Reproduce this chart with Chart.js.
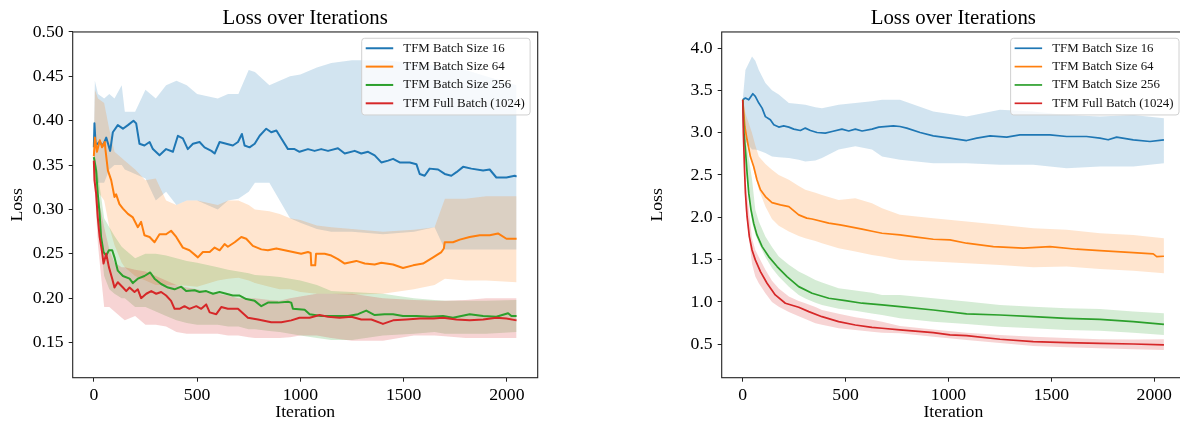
<!DOCTYPE html>
<html lang="en">
<head>
<meta charset="UTF-8" />
<title>Loss over Iterations</title>
<script src="https://cdn.jsdelivr.net/npm/chart.js"></script>
<style>
  html, body { margin: 0; padding: 0; background: #fff; overflow: hidden; }
  body { width: 1180px; height: 424px; position: relative; }
  .panel { position: absolute; top: 0; width: 560px; height: 424px; }
</style>
</head>
<body>
<div class="panel" style="left:0"><canvas id="lossLeft" width="560" height="424"></canvas></div>
<div class="panel" style="left:640px"><canvas id="lossRight" width="560" height="424"></canvas></div>

<script>
const seriesLabels = ["TFM Batch Size 16", "TFM Batch Size 64", "TFM Batch Size 256", "TFM Full Batch (1024)"];
const seriesColors = ["#1f77b4", "#ff7f0e", "#2ca02c", "#d62728"];
const bandColors = ["rgba(31,119,180,0.2)", "rgba(255,127,14,0.2)", "rgba(44,160,44,0.2)", "rgba(214,39,40,0.2)"];

const xTicks = [0, 500, 1000, 1500, 2000];
const leftYTicks = [0.15, 0.20, 0.25, 0.30, 0.35, 0.40, 0.45, 0.50];
const rightYTicks = [0.5, 1.0, 1.5, 2.0, 2.5, 3.0, 3.5, 4.0];

// ---- left panel: mean curves ----
const leftBlueIt = [0,3,9,27,44,60,79,92,116,141,165,192,205,221,245,270,286,318,350,383,407,431,455,480,512,536,569,585,609,641,673,698,717,730,754,779,803,835,859,884,908,940,972,996,1037,1069,1101,1134,1182,1215,1263,1295,1328,1360,1392,1425,1449,1481,1530,1562,1578,1602,1626,1667,1699,1731,1756,1788,1828,1885,1917,1949,1998,2038,2047];
const leftBlue = [0.370,0.397,0.372,0.376,0.372,0.381,0.366,0.387,0.395,0.391,0.395,0.400,0.397,0.374,0.372,0.376,0.368,0.361,0.368,0.365,0.383,0.380,0.368,0.374,0.376,0.370,0.366,0.363,0.376,0.374,0.372,0.376,0.385,0.372,0.370,0.374,0.383,0.391,0.387,0.389,0.380,0.368,0.368,0.365,0.368,0.366,0.368,0.366,0.369,0.363,0.366,0.363,0.365,0.361,0.353,0.355,0.357,0.353,0.353,0.351,0.340,0.338,0.346,0.345,0.340,0.338,0.342,0.348,0.346,0.344,0.345,0.336,0.336,0.338,0.337];

const leftOrangeIt = [0,5,15,29,40,53,56,68,84,100,108,124,141,165,189,213,229,245,270,294,318,350,374,399,431,463,504,528,561,585,609,633,649,682,714,738,770,811,843,884,924,964,1004,1037,1050,1053,1072,1076,1118,1150,1182,1215,1271,1312,1360,1392,1449,1497,1546,1594,1643,1683,1695,1699,1739,1772,1820,1869,1917,1957,1998,2047];
const leftOrange = [0.360,0.381,0.365,0.378,0.370,0.376,0.368,0.344,0.333,0.314,0.317,0.306,0.301,0.295,0.291,0.280,0.286,0.271,0.269,0.263,0.272,0.272,0.276,0.269,0.257,0.254,0.246,0.252,0.252,0.257,0.254,0.261,0.258,0.263,0.269,0.267,0.259,0.255,0.254,0.256,0.254,0.252,0.250,0.252,0.251,0.237,0.237,0.250,0.250,0.248,0.244,0.239,0.242,0.239,0.238,0.240,0.238,0.234,0.237,0.239,0.246,0.252,0.256,0.263,0.263,0.266,0.269,0.271,0.271,0.273,0.267,0.267];

const leftGreenIt = [0,11,19,28,35,47,60,73,89,100,116,141,173,189,213,245,273,294,326,359,391,423,447,488,512,544,577,609,641,673,706,738,779,811,843,892,940,956,964,1021,1045,1101,1166,1231,1279,1319,1360,1408,1449,1497,1562,1626,1691,1739,1820,1885,1949,2006,2022,2047];
const leftGreen = [0.359,0.344,0.318,0.295,0.269,0.252,0.248,0.254,0.254,0.246,0.231,0.225,0.222,0.217,0.222,0.225,0.229,0.222,0.216,0.212,0.210,0.213,0.208,0.209,0.207,0.208,0.205,0.207,0.205,0.203,0.203,0.199,0.197,0.191,0.195,0.195,0.196,0.195,0.188,0.187,0.182,0.180,0.180,0.180,0.182,0.186,0.181,0.182,0.182,0.180,0.180,0.179,0.180,0.178,0.182,0.180,0.179,0.183,0.180,0.180];

const leftRedIt = [0,3,11,19,28,40,47,60,73,89,100,116,141,157,173,197,213,229,254,278,302,326,350,374,391,415,439,463,496,520,544,561,593,617,649,698,746,795,859,908,956,996,1045,1093,1134,1190,1247,1295,1344,1400,1449,1513,1578,1643,1691,1756,1820,1885,1949,1998,2047];
const leftRed = [0.355,0.333,0.318,0.291,0.269,0.252,0.239,0.250,0.235,0.222,0.212,0.218,0.212,0.208,0.212,0.207,0.210,0.200,0.205,0.208,0.205,0.207,0.203,0.197,0.188,0.188,0.191,0.188,0.191,0.188,0.193,0.184,0.182,0.190,0.188,0.188,0.178,0.176,0.173,0.173,0.175,0.178,0.178,0.181,0.179,0.178,0.179,0.176,0.176,0.171,0.175,0.176,0.177,0.177,0.178,0.176,0.175,0.176,0.178,0.177,0.175];

// ---- left panel: shaded bands (upper / lower) ----
const leftBandIt = [0,5,20,50,75,100,135,150,200,250,300,350,400,450,500,600,650,700,750,780,850,900,950,1000,1080,1150,1250,1400,1550,1650,1700,1800,1900,2047];
const leftBlueHi = [0.375,0.445,0.430,0.425,0.430,0.425,0.440,0.410,0.410,0.435,0.425,0.440,0.445,0.440,0.430,0.425,0.430,0.430,0.457,0.455,0.440,0.445,0.450,0.452,0.460,0.465,0.468,0.468,0.465,0.462,0.460,0.457,0.450,0.440];
const leftBlueLo = [0.365,0.345,0.330,0.330,0.345,0.350,0.350,0.345,0.340,0.335,0.310,0.320,0.305,0.310,0.310,0.300,0.310,0.312,0.320,0.330,0.330,0.310,0.290,0.285,0.278,0.275,0.275,0.272,0.275,0.280,0.255,0.255,0.255,0.255];
const leftOrangeHi = [0.370,0.435,0.425,0.420,0.390,0.365,0.358,0.355,0.345,0.333,0.335,0.310,0.305,0.310,0.310,0.305,0.310,0.310,0.305,0.300,0.298,0.295,0.290,0.288,0.282,0.280,0.278,0.275,0.277,0.280,0.312,0.312,0.315,0.315];
const leftOrangeLo = [0.350,0.330,0.320,0.310,0.280,0.260,0.240,0.235,0.225,0.220,0.215,0.215,0.215,0.214,0.213,0.220,0.222,0.223,0.220,0.217,0.213,0.210,0.210,0.207,0.205,0.205,0.204,0.205,0.210,0.215,0.222,0.220,0.220,0.218];
const leftGreenHi = [0.365,0.360,0.340,0.290,0.280,0.270,0.258,0.255,0.245,0.250,0.250,0.248,0.245,0.242,0.240,0.235,0.232,0.230,0.228,0.226,0.225,0.224,0.222,0.220,0.215,0.208,0.207,0.205,0.200,0.198,0.197,0.197,0.197,0.198];
const leftGreenLo = [0.355,0.340,0.290,0.225,0.210,0.205,0.200,0.200,0.190,0.190,0.185,0.180,0.175,0.172,0.170,0.170,0.168,0.168,0.165,0.165,0.163,0.162,0.160,0.158,0.155,0.153,0.153,0.158,0.160,0.162,0.160,0.160,0.160,0.162];
const leftRedHi = [0.360,0.345,0.315,0.280,0.255,0.240,0.235,0.235,0.232,0.230,0.225,0.220,0.215,0.212,0.210,0.205,0.203,0.200,0.200,0.200,0.198,0.197,0.200,0.202,0.205,0.205,0.205,0.200,0.198,0.197,0.197,0.198,0.200,0.200];
const leftRedLo = [0.350,0.320,0.260,0.190,0.190,0.185,0.178,0.175,0.180,0.170,0.170,0.168,0.162,0.160,0.160,0.160,0.158,0.158,0.156,0.155,0.155,0.155,0.156,0.158,0.158,0.155,0.152,0.152,0.158,0.158,0.157,0.155,0.155,0.155];

// ---- right panel: mean curves ----
const rightBlueIt = [0,13,29,49,61,78,94,110,134,151,175,199,224,248,280,304,329,361,401,434,482,515,547,580,628,661,732,764,797,862,926,1007,1088,1137,1202,1283,1347,1412,1493,1574,1671,1736,1776,1817,1898,1979,2047];
const rightBlue = [3.389,3.409,3.389,3.460,3.430,3.350,3.290,3.190,3.152,3.093,3.066,3.080,3.066,3.042,3.026,3.054,3.026,3.002,2.995,3.014,3.042,3.020,3.042,3.020,3.042,3.066,3.081,3.073,3.054,3.002,2.963,2.936,2.907,2.936,2.963,2.948,2.975,2.975,2.975,2.955,2.955,2.936,2.916,2.948,2.916,2.896,2.916];
const rightOrangeIt = [0,10,21,37,53,69,86,110,142,183,224,272,311,337,418,473,499,580,635,677,764,845,926,1007,1088,1218,1363,1493,1623,1736,1898,1995,2012,2047];
const rightOrange = [3.389,3.073,2.916,2.718,2.600,2.443,2.325,2.245,2.174,2.147,2.127,2.029,1.990,1.980,1.931,1.911,1.899,1.860,1.832,1.812,1.792,1.765,1.741,1.733,1.694,1.654,1.635,1.654,1.623,1.607,1.583,1.568,1.536,1.540];
const rightGreenIt = [0,6,13,21,29,40,53,69,94,126,167,215,272,337,418,499,580,677,764,926,1088,1250,1412,1574,1736,1898,2047];
const rightGreen = [3.389,2.995,2.797,2.522,2.285,2.088,1.931,1.792,1.654,1.536,1.418,1.300,1.181,1.103,1.044,1.016,0.985,0.965,0.944,0.905,0.858,0.846,0.826,0.807,0.795,0.767,0.736];
const rightRedIt = [0,3,8,13,21,32,45,61,86,118,158,207,272,321,385,466,547,628,677,764,926,1007,1088,1250,1412,1574,1736,1898,2047];
const rightRed = [3.389,2.995,2.600,2.285,2.010,1.772,1.615,1.497,1.359,1.221,1.083,0.985,0.937,0.886,0.826,0.767,0.728,0.700,0.689,0.669,0.637,0.610,0.602,0.559,0.531,0.519,0.511,0.503,0.492];

// ---- right panel: shaded bands ----
const rightBandIt = [0,13,45,61,78,110,142,175,224,272,304,353,385,466,547,628,677,764,926,1088,1250,1412,1574,1736,1898,2047];
const rightBlueHi = [3.39,3.74,3.90,3.85,3.74,3.586,3.50,3.45,3.35,3.34,3.33,3.30,3.29,3.33,3.35,3.37,3.39,3.39,3.25,3.19,3.27,3.25,3.21,3.19,3.21,3.17];
const rightBlueLo = [3.39,2.90,2.80,2.80,2.79,2.76,2.72,2.71,2.70,2.68,2.66,2.67,2.70,2.80,2.84,2.80,2.72,2.68,2.64,2.64,2.62,2.62,2.58,2.60,2.60,2.64];
const rightOrangeHi = [3.39,3.23,2.995,2.85,2.718,2.63,2.561,2.50,2.443,2.37,2.325,2.29,2.265,2.206,2.226,2.167,2.108,2.029,1.99,1.95,1.911,1.872,1.852,1.812,1.792,1.753];
const rightOrangeLo = [3.39,2.95,2.65,2.48,2.33,2.127,1.98,1.90,1.832,1.78,1.753,1.72,1.694,1.635,1.595,1.556,1.536,1.497,1.477,1.458,1.438,1.41,1.42,1.39,1.37,1.34];
const rightGreenHi = [3.39,2.95,2.45,2.088,1.95,1.772,1.65,1.536,1.44,1.36,1.32,1.26,1.23,1.162,1.135,1.11,1.083,1.083,1.044,1.004,0.965,0.944,0.926,0.918,0.886,0.867];
const rightGreenLo = [3.39,2.60,1.95,1.80,1.694,1.53,1.40,1.30,1.18,1.083,1.04,0.99,0.965,0.92,0.895,0.865,0.846,0.807,0.767,0.74,0.708,0.689,0.669,0.661,0.637,0.61];
const rightRedHi = [3.39,2.45,1.75,1.615,1.53,1.38,1.25,1.16,1.063,1.01,0.985,0.94,0.905,0.86,0.82,0.79,0.767,0.716,0.675,0.637,0.61,0.59,0.575,0.559,0.555,0.559];
const rightRedLo = [3.39,2.10,1.45,1.30,1.22,1.103,1.00,0.944,0.88,0.83,0.80,0.748,0.73,0.689,0.668,0.648,0.637,0.63,0.59,0.551,0.515,0.48,0.465,0.453,0.44,0.433];

const serif = '"Liberation Serif", "Times New Roman", serif';

function pts(xs, ys) {
  return xs.map((x, i) => ({ x: x, y: ys[i] }));
}

function buildDatasets(lines, bands, bandIt, lw) {
  const sets = [];
  lines.forEach((ln, i) => {
    sets.push({ label: seriesLabels[i] + " hi", data: pts(bandIt, bands[i][0]), fill: "+1",
      backgroundColor: bandColors[i], borderColor: "transparent", borderWidth: 0, pointRadius: 0, order: 4 - i });
    sets.push({ label: seriesLabels[i] + " lo", data: pts(bandIt, bands[i][1]), fill: false,
      borderColor: "transparent", borderWidth: 0, pointRadius: 0, order: 4 - i });
    sets.push({ label: seriesLabels[i], data: pts(ln[0], ln[1]), fill: false,
      borderColor: seriesColors[i], borderWidth: lw, borderJoinStyle: "round", pointRadius: 0, order: -1 - i });
  });
  return sets;
}

// axes frame (all four spines)
const framePlugin = {
  id: "frame",
  afterDatasetsDraw(chart) {
    const { ctx, chartArea: a } = chart;
    ctx.save();
    ctx.strokeStyle = "#222";
    ctx.lineWidth = 1.1;
    ctx.strokeRect(a.left, a.top, a.right - a.left, a.bottom - a.top);
    ctx.restore();
  }
};

// matplotlib-like legend box in the upper right corner
const boxLegend = {
  id: "boxLegend",
  afterDraw(chart, args, opts) {
    const { ctx, chartArea: a } = chart;
    ctx.save();
    ctx.font = "12.9px " + serif;
    const textW = Math.max(...seriesLabels.map(l => ctx.measureText(l).width));
    const w = 41.6 + textW + 5.4, h = 76.7;
    const x0 = a.right - opts.inset - w, y0 = a.top + 6.3, r = 3;
    ctx.beginPath();
    ctx.moveTo(x0 + r, y0);
    ctx.arcTo(x0 + w, y0, x0 + w, y0 + h, r);
    ctx.arcTo(x0 + w, y0 + h, x0, y0 + h, r);
    ctx.arcTo(x0, y0 + h, x0, y0, r);
    ctx.arcTo(x0, y0, x0 + w, y0, r);
    ctx.closePath();
    ctx.fillStyle = "rgba(255,255,255,0.8)";
    ctx.fill();
    ctx.strokeStyle = "#d0d0d0";
    ctx.lineWidth = 1;
    ctx.stroke();
    seriesLabels.forEach((lab, i) => {
      const yy = y0 + 10 + i * 18.35;
      ctx.strokeStyle = seriesColors[i];
      ctx.lineWidth = opts.lineWidth;
      ctx.beginPath();
      ctx.moveTo(x0 + 4, yy);
      ctx.lineTo(x0 + 31.5, yy);
      ctx.stroke();
      ctx.fillStyle = "#111";
      ctx.textBaseline = "middle";
      ctx.fillText(lab, x0 + 41.6, yy);
    });
    ctx.restore();
  }
};

function makeChart(id, p) {
  const axisFont = { family: serif, size: 17.7 };
  return new Chart(document.getElementById(id), {
    type: "line",
    data: { datasets: buildDatasets(p.lines, p.bands, p.bandIt, p.lw) },
    options: {
      responsive: false,
      animation: false,
      events: [],
      devicePixelRatio: 1,
      layout: { padding: { left: 0, right: p.padRight, top: 0, bottom: 0 } },
      elements: { line: { tension: 0 }, point: { radius: 0 } },
      plugins: {
        legend: { display: false },
        tooltip: { enabled: false },
        title: {
          display: true, text: "Loss over Iterations", fullSize: false, color: "#000",
          font: { family: serif, size: 20.8, weight: "normal" },
          padding: { top: 6, bottom: 1 }
        },
        boxLegend: { inset: p.legendInset, lineWidth: p.lw }
      },
      scales: {
        x: {
          type: "linear", min: -102.35, max: 2149.35,
          afterFit: s => { s.height = 46.3; },
          afterBuildTicks: s => { s.ticks = xTicks.map(v => ({ value: v })); },
          grid: { display: true, drawOnChartArea: false, drawTicks: true, tickLength: 4, color: "#222", lineWidth: 1 },
          border: { display: false },
          ticks: { color: "#000", font: axisFont, padding: 3, maxRotation: 0, callback: v => String(v) },
          title: { display: true, text: "Iteration", color: "#000", font: axisFont, padding: { top: 0, bottom: 1.5 } }
        },
        y: {
          type: "linear", min: p.yMin, max: p.yMax,
          afterFit: s => { s.width = p.yWidth; },
          afterBuildTicks: s => { s.ticks = p.yTicks.map(v => ({ value: v })); },
          grid: { display: true, drawOnChartArea: false, drawTicks: true, tickLength: 4, color: "#222", lineWidth: 1 },
          border: { display: false },
          ticks: { color: "#000", font: axisFont, padding: 5, callback: v => v.toFixed(p.decimals) },
          title: { display: true, text: "Loss", color: "#000", font: axisFont, padding: { top: 6.9, bottom: 0 } }
        }
      }
    },
    plugins: [framePlugin, boxLegend]
  });
}

makeChart("lossLeft", {
  lines: [[leftBlueIt, leftBlue], [leftOrangeIt, leftOrange], [leftGreenIt, leftGreen], [leftRedIt, leftRed]],
  bands: [[leftBlueHi, leftBlueLo], [leftOrangeHi, leftOrangeLo], [leftGreenHi, leftGreenLo], [leftRedHi, leftRedLo]],
  bandIt: leftBandIt,
  yMin: 0.1104, yMax: 0.5, yTicks: leftYTicks, decimals: 2,
  yWidth: 72.7, padRight: 22.3, legendInset: 7.6, lw: 2
});

makeChart("lossRight", {
  lines: [[rightBlueIt, rightBlue], [rightOrangeIt, rightOrange], [rightGreenIt, rightGreen], [rightRedIt, rightRed]],
  bands: [[rightBlueHi, rightBlueLo], [rightOrangeHi, rightOrangeLo], [rightGreenHi, rightGreenLo], [rightRedHi, rightRedLo]],
  bandIt: rightBandIt,
  yMin: 0.105, yMax: 4.19, yTicks: rightYTicks, decimals: 1,
  yWidth: 81.7, padRight: 15, legendInset: 6, lw: 1.7
});
</script>
</body>
</html>
